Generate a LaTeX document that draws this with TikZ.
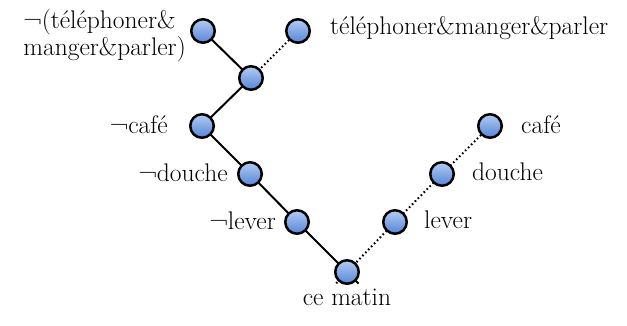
\documentclass[tikz,border=0pt]{standalone}
\usepackage{fontspec}
\usetikzlibrary{backgrounds,calc}
\begin{document}
\begin{tikzpicture}[x=1pt,y=-1pt,
  world/.style={circle,draw=black,line width=2.5pt,minimum size=23.5pt,inner sep=0pt,
    top color={rgb,255:red,178;green,204;blue,245},bottom color={rgb,255:red,86;green,132;blue,214}},
  lbl/.style={font=\fontsize{25.5}{27}\selectfont,inner sep=0pt},
  link/.style={line width=2pt,black},
  maybe/.style={line width=2pt,black,dash pattern=on 1.6pt off 2.6pt}]
\useasboundingbox (0,0) rectangle (627,325);

% worlds
\node[world] (nt)  at (203,31) {};
\node[world] (t)   at (298,31) {};
\node[world] (j)   at (251,78) {};
\node[world] (nc)  at (202,126) {};
\node[world] (nd)  at (250,174) {};
\node[world] (nl)  at (297,222) {};
\node[world] (m)   at (347,272) {};
\node[world] (l)   at (395,222) {};
\node[world] (d)   at (442,174) {};
\node[world] (c)   at (490,126) {};

% labels
\node[lbl,align=left,anchor=east] (Lnt) at (186,36) {¬(téléphoner\&\\manger\&parler)};
\node[lbl,anchor=west] (Lt)  at (330,28) {téléphoner\&manger\&parler};
\node[lbl,anchor=east] (Lnc) at (168,125) {¬café};
\node[lbl,anchor=east] (Lnd) at (228,173) {¬douche};
\node[lbl,anchor=east] (Lnl) at (276,221) {¬lever};
\node[lbl,anchor=west] (Ll)  at (424,220) {lever};
\node[lbl,anchor=west] (Ld)  at (472,172) {douche};
\node[lbl,anchor=west] (Lc)  at (521,125) {café};
\node[lbl] (Lm) at (347,297) {ce matin};

% branches, drawn behind the worlds
\coordinate (mr) at ($(nl)!1.23!(m)$);
\coordinate (ml) at ($(l)!1.23!(m)$);
\begin{scope}[on background layer]
  \draw[link] (nt.center) -- (j.center) -- (nc.center) -- (nd.center) -- (nl.center) -- (mr);
  \draw[maybe] (t.center) -- (j.center);
  \draw[maybe] (c.center) -- (d.center) -- (l.center) -- (ml);
\end{scope}
\end{tikzpicture}
\end{document}
